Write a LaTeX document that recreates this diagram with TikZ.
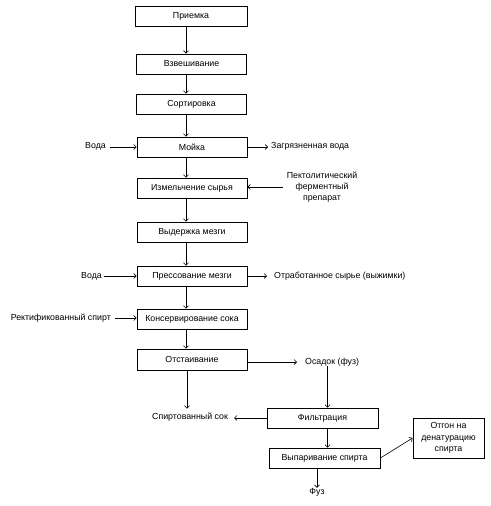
\documentclass[tikz,border=0pt]{standalone}
\usepackage{fontspec}
\setmainfont{Liberation Sans}
\usetikzlibrary{arrows.meta}
\begin{document}
\begin{tikzpicture}[x=1pt,y=-1pt,
  box/.style={draw,line width=0.8pt,minimum width=110pt,minimum height=20pt,inner sep=0pt,font=\fontsize{8.8}{10}\selectfont},
  lbl/.style={inner sep=0pt,font=\fontsize{8.8}{11}\selectfont},
  arr/.style={line width=0.6pt,-{Straight Barb[length=2.5pt,width=5pt]}}]
\useasboundingbox (0,0) rectangle (490,506);
\coordinate (sp) at (186,0);
\coordinate (sp2) at (327.5,0);
\coordinate (sp3) at (187,0);
\node[box,minimum width=112pt] (b1) at (191,16) {Приемка};
\node[box] (b2) at (191.5,64) {Взвешивание};
\node[box] (b3) at (191.5,104) {Сортировка};
\node[box] (b4) at (192,147) {Мойка};
\node[box] (b5) at (192,188) {Измельчение сырья};
\node[box] (b6) at (192,232) {Выдержка мезги};
\node[box] (b7) at (192,276) {Прессование мезги};
\node[box] (b8) at (192,319) {Консервирование сока};
\node[box,minimum height=21pt] (b9) at (192,359.5) {Отстаивание};
\node[box,minimum width=111pt] (b10) at (322.5,418) {Фильтрация};
\node[box,minimum width=111pt] (b11) at (324.5,458) {Выпаривание спирта};
\node[box,minimum width=71pt,minimum height=40pt,align=center,font=\fontsize{8.8}{11.5}\selectfont] (b12) at (448.5,438) {Отгон на\\денатурацию\\спирта};
\node[lbl,anchor=east] (t1) at (106,146) {Вода};
\node[lbl,anchor=west] (t2) at (271,146) {Загрязненная вода};
\node[lbl,align=center] (t3) at (322,187) {Пектолитический\\ферментный\\препарат};
\node[lbl,anchor=east] (t4) at (102,276) {Вода};
\node[lbl,anchor=west] (t5) at (274,276) {Отработанное сырье (выжимки)};
\node[lbl,anchor=east] (t6) at (111,318) {Ректификованный спирт};
\node[lbl,anchor=west] (t7) at (305,362) {Осадок (фуз)};
\node[lbl,anchor=west] (t8) at (152,417) {Спиртованный сок};
\node[lbl] (t9) at (317,492) {Фуз};
\foreach \a/\b in {b1/b2,b2/b3,b3/b4,b4/b5,b5/b6,b6/b7,b7/b8,b8/b9}
  \draw[arr] (\a.south -| sp) -- (\b.north -| sp);
\draw[arr] ([xshift=4pt]t1.east |- b4.west) -- (b4.west);
\draw[arr] (b4.east) -- ([xshift=-3pt]t2.west |- b4.east);
\draw[arr] ([xshift=-4pt]t3.west) -- (t3.west -| b5.east);
\draw[arr] ([xshift=2pt]t4.east) -- (b7.west);
\draw[arr] (b7.east) -- ([xshift=-7pt]t5.west);
\draw[arr] ([xshift=4pt]t6.east) -- (t6.east -| b8.west);
\draw[arr] (b9.east |- t7.west) -- ([xshift=-8pt]t7.west);
\draw[arr] (b9.south -| sp3) -- ([yshift=4pt]t8.north -| sp3);
\draw[arr] (t7.south -| sp2) -- (b10.north -| sp2);
\draw[arr] (b10.west) -- ([xshift=6pt]t8.east |- b10.west);
\draw[arr] (b10.south -| sp2) -- (b11.north -| sp2);
\draw[arr] (b11.east) -- (b12.west);
\draw[arr] (b11.south -| t9) -- (t9.north);
\end{tikzpicture}
\end{document}
